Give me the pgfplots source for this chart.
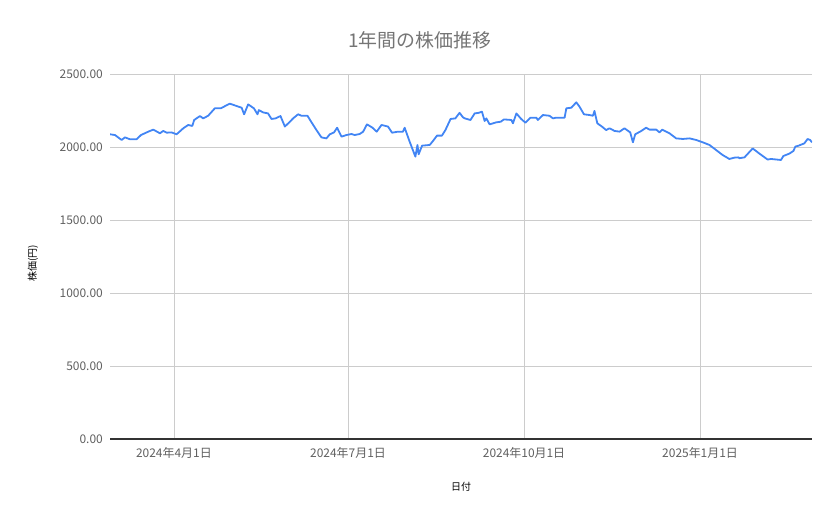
\documentclass[border=0pt]{standalone}
\usepackage{fontspec}
\setmainfont{Noto Sans CJK JP}
\usepackage{pgfplots}
\pgfplotsset{compat=1.18}

\definecolor{lineblue}{HTML}{4285F4}
\definecolor{gridgray}{HTML}{CCCCCC}
\definecolor{titlegray}{HTML}{757575}
\definecolor{ticktext}{HTML}{5F5F5F}
\definecolor{labeltext}{HTML}{222222}

\begin{document}
\begin{tikzpicture}
  \useasboundingbox (0,0) rectangle (839bp,519bp);
  \node[text=titlegray, font=\fontsize{19}{22}\selectfont] at (419.5bp,479bp) {1年間の株価推移};
  \begin{axis}[
      at={(110bp,80bp)}, anchor=south west,
      scale only axis,
      width=702bp, height=365bp,
      xmin=-33.4, xmax=333.5,
      ymin=0, ymax=2500,
      axis line style={draw=none},
      major tick length=0pt,
      grid=major,
      grid style={gridgray, line width=0.8bp},
      % x: days from 2024-04-01
      xtick={0,91,183,275},
      xticklabels={2024年4月1日,2024年7月1日,2024年10月1日,2025年1月1日},
      ytick={500,1000,1500,2000,2500},
      yticklabels={500.00,1000.00,1500.00,2000.00,2500.00},
      extra y ticks={0},
      extra y tick labels={0.00},
      extra y tick style={grid style={black!80, line width=1.2bp}},
      tick label style={font=\fontsize{12}{14}\selectfont, text=ticktext},
      yticklabel style={anchor=east, inner sep=0pt, xshift=-7bp},
      xticklabel style={anchor=north, inner sep=0pt, yshift=-8bp},
      xlabel={日付},
      ylabel={株価(円)},
      label style={font=\fontsize{12.5}{14}\selectfont, text=labeltext},
      every axis x label/.style={at={(axis description cs:0.5,-0.1315)}, anchor=center},
      every axis y label/.style={at={(axis description cs:-0.1097,0.482)}, anchor=center, rotate=90},
    ]
    \addplot[lineblue, line width=1.8bp, line join=round] coordinates {
      (-33.4,2087) (-30.8,2082) (-27.3,2048) (-25.6,2066) (-23.0,2053)
      (-19.5,2053) (-17.2,2082) (-13.4,2105) (-10.8,2119) (-7.3,2094)
      (-5.6,2110) (-3.8,2098) (-1.2,2100) (1.4,2087) (4.9,2128)
      (7.5,2151) (9.6,2144) (10.6,2185) (13.6,2212) (15.3,2196)
      (17.9,2214) (21.4,2265) (24.5,2265) (29.2,2297) (32.7,2281)
      (35.4,2269) (36.7,2224) (38.8,2292) (41.8,2265) (43.7,2224)
      (44.4,2253) (46.6,2237) (49.2,2230) (51.0,2192) (53.1,2196)
      (55.7,2212) (58.0,2140) (60.6,2173) (62.3,2196) (64.9,2224)
      (66.7,2214) (69.8,2214) (71.5,2178) (74.5,2116) (77.1,2066)
      (79.7,2059) (81.5,2087) (83.7,2100) (85.3,2132) (87.6,2071)
      (90.2,2082) (92.8,2089) (94.5,2082) (97.1,2089) (98.9,2105)
      (100.9,2155) (103.6,2134) (106.0,2105) (108.5,2151) (111.9,2140)
      (114.0,2098) (117.1,2105) (119.7,2105) (120.6,2132) (123.2,2037)
      (126.2,1934) (127.3,2014) (127.9,1950) (129.7,2009) (133.7,2014)
      (135.4,2041) (137.5,2078) (140.1,2078) (141.9,2116) (144.6,2192)
      (147.1,2196) (149.3,2234) (151.1,2203) (152.0,2196) (155.0,2185)
      (157.2,2230) (159.3,2234) (161.0,2242) (162.4,2178) (163.3,2196)
      (165.0,2155) (168.5,2169) (170.8,2173) (172.5,2189) (176.4,2185)
      (177.2,2162) (179.0,2230) (181.5,2192) (183.7,2167) (186.4,2201)
      (189.4,2201) (190.2,2185) (192.9,2219) (196.3,2214) (198.1,2196)
      (199.8,2201) (204.2,2201) (205.1,2265) (207.7,2269) (210.3,2306)
      (212.0,2276) (214.3,2224) (217.2,2219) (219.0,2214) (219.8,2247)
      (221.3,2162) (223.7,2140) (225.9,2116) (227.7,2128) (230.3,2110)
      (232.9,2105) (235.5,2128) (238.5,2100) (239.9,2032) (241.1,2087)
      (244.3,2110) (246.8,2132) (248.6,2119) (252.1,2119) (253.8,2100)
      (255.2,2119) (259.0,2094) (262.5,2059) (266.0,2055) (269.5,2059)
      (273.0,2048) (276.4,2032) (279.9,2014) (283.4,1979) (286.8,1945)
      (290.3,1918) (292.9,1927) (295.0,1929) (295.5,1923) (298.2,1929)
      (302.5,1990) (306.0,1955) (310.3,1914) (312.1,1918) (317.3,1911)
      (318.5,1938) (321.7,1955) (323.8,1973) (324.8,2003) (326.5,2009)
      (329.5,2025) (331.2,2055) (332.5,2048) (333.5,2032)
    };
  \end{axis}
\end{tikzpicture}
\end{document}
